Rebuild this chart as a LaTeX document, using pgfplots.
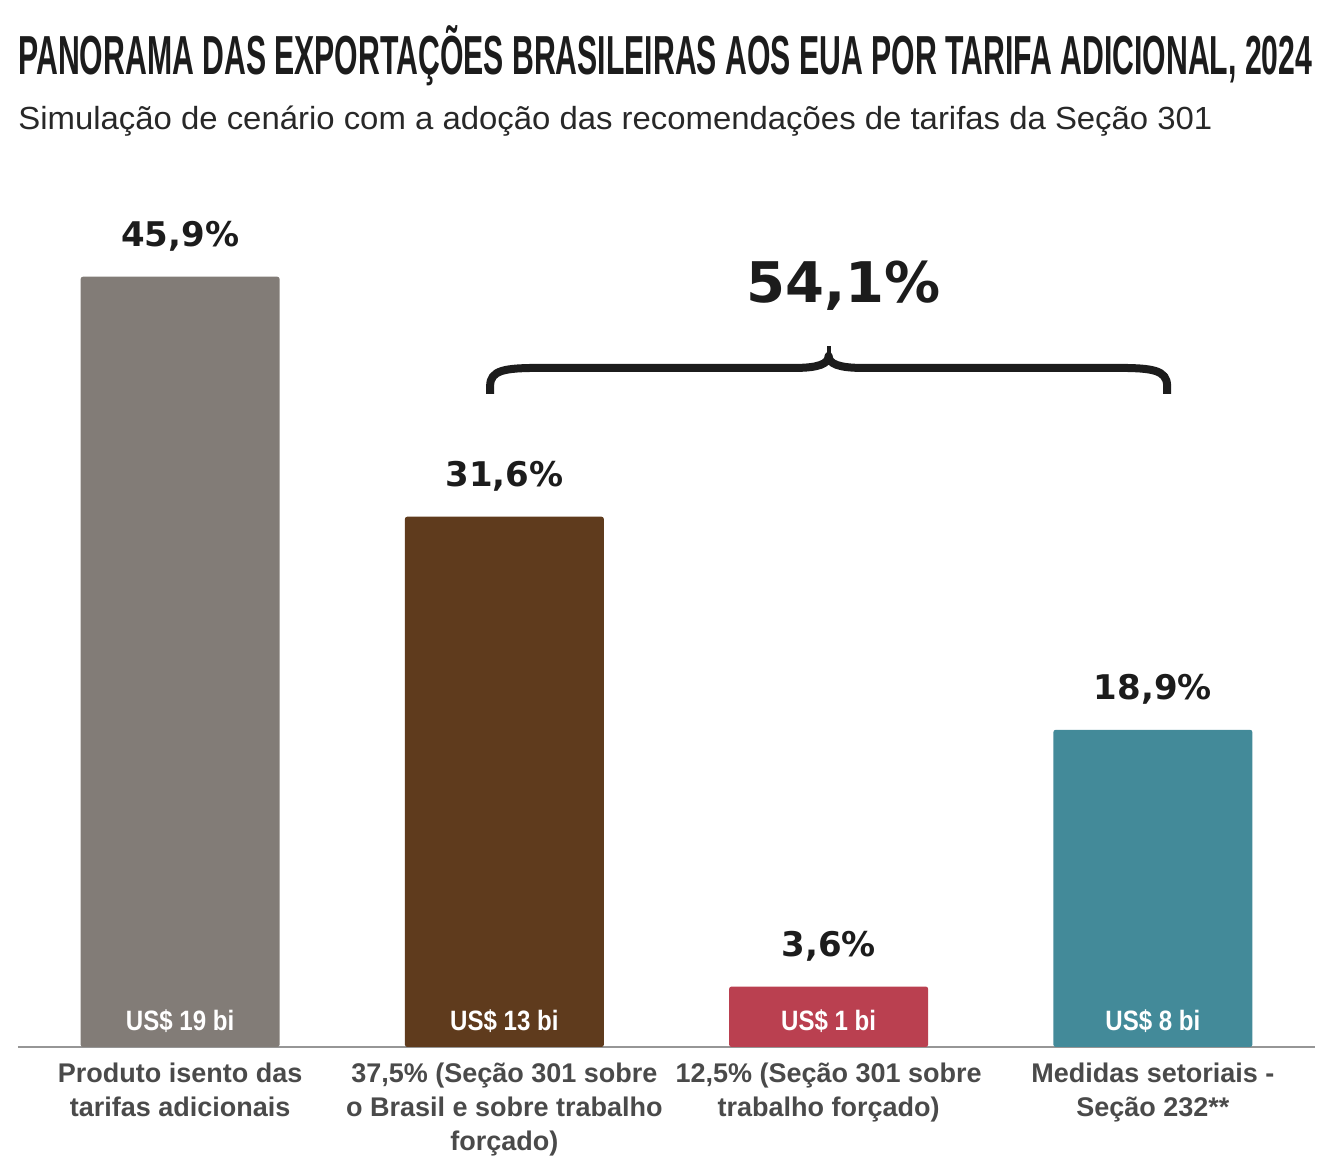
\documentclass[border=0pt]{standalone}
\usepackage{pgfplots}
\pgfplotsset{compat=1.18}
\usepackage{graphicx}
\usepackage{fontspec}
\setmainfont{Liberation Sans}
\newfontfamily\numfont{DejaVu Sans}

\definecolor{barGray}{RGB}{130,124,119}
\definecolor{barBrown}{RGB}{95,59,29}
\definecolor{barRed}{RGB}{186,64,80}
\definecolor{barTeal}{RGB}{67,138,153}
\definecolor{axisGray}{RGB}{150,150,150}
\definecolor{labelInk}{RGB}{74,74,74}
\definecolor{valueInk}{RGB}{28,28,28}
\definecolor{titleInk}{RGB}{28,28,28}
\definecolor{subInk}{RGB}{40,40,40}

\tikzset{usd/.style={anchor=base, inner sep=0pt, text=white,
        font=\bfseries\fontsize{14pt}{16pt}\selectfont, yshift=8pt}}
\newcommand\usd[1]{\scalebox{0.86}[1]{US\$ #1 bi}}

\begin{document}
\begin{tikzpicture}
\useasboundingbox (0,0) rectangle (665pt,585pt);

% title and subtitle
\node[anchor=base west, inner sep=0pt, text=titleInk] at (9pt,547.5pt)
  {\resizebox{647pt}{\height}{\bfseries\fontsize{27.5pt}{31pt}\selectfont PANORAMA DAS EXPORTAÇÕES BRASILEIRAS AOS EUA POR TARIFA ADICIONAL, 2024}};
\node[anchor=base west, inner sep=0pt, text=subInk] at (9pt,520pt)
  {\resizebox{597pt}{\height}{\fontsize{16pt}{19pt}\selectfont Simulação de cenário com a adoção das recomendações de tarifas da Seção 301}};

\begin{axis}[
  at={(9pt,61.5pt)}, anchor=south west,
  scale only axis, width=648.5pt, height=461.5pt,
  xmin=-0.5, xmax=3.5, ymin=0, ymax=55,
  axis x line*=bottom, axis y line=none,
  x axis line style={draw=axisGray, line width=1pt},
  xtick={0,1,2,3},
  xticklabels={{Produto isento das\\tarifas adicionais},
               {37,5\% (Seção 301 sobre\\o Brasil e sobre trabalho\\forçado)},
               {12,5\% (Seção 301 sobre\\trabalho forçado)},
               {Medidas setoriais -\\Seção 232**}},
  xticklabel style={font=\bfseries\fontsize{13.5pt}{17pt}\selectfont, text=labelInk,
                    align=center, anchor=north, inner sep=0pt, yshift=-8pt},
  major tick length=0pt,
  ytick=\empty,
  ybar, bar width=99.5pt, bar shift=0pt,
  clip=false,
  /pgf/number format/assume math mode=true,
  nodes near coords={\pgfmathprintnumber[fixed,fixed zerofill,precision=1,use comma]{\pgfplotspointmeta}\%},
  every node near coord/.append style={font=\numfont\bfseries\fontsize{17pt}{20pt}\selectfont,
                    text=valueInk, anchor=base, yshift=15pt, inner sep=0pt},
]
\addplot[fill=barGray,  draw=none, rounded corners=1.2pt] coordinates {(0,45.9)};
\addplot[fill=barBrown, draw=none, rounded corners=1.2pt] coordinates {(1,31.6)};
\addplot[fill=barRed,   draw=none, rounded corners=1.2pt] coordinates {(2,3.6)};
\addplot[fill=barTeal,  draw=none, rounded corners=1.2pt] coordinates {(3,18.9)};

% export values inside the bars
\node[usd] at (axis cs:0,0) {\usd{19}};
\node[usd] at (axis cs:1,0) {\usd{13}};
\node[usd] at (axis cs:2,0) {\usd{1}};
\node[usd] at (axis cs:3,0) {\usd{8}};

% brace grouping the three tariffed categories
\draw[valueInk, line width=4pt, line cap=butt, line join=round]
  (axis cs:0.9561,38.915) -- (axis cs:0.9561,39.392)
  .. controls (axis cs:0.9561,40.346) and (axis cs:1.0023,40.465) .. (axis cs:1.1103,40.465)
  -- (axis cs:1.8967,40.465)
  .. controls (axis cs:1.9676,40.465) and (axis cs:2.0,40.703) .. (axis cs:2.0,41.180)
  .. controls (axis cs:2.0,40.703) and (axis cs:2.0324,40.465) .. (axis cs:2.1033,40.465)
  -- (axis cs:2.8897,40.465)
  .. controls (axis cs:2.9977,40.465) and (axis cs:3.0439,40.346) .. (axis cs:3.0439,39.392)
  -- (axis cs:3.0439,38.915);
\fill[valueInk] (axis cs:1.994,40.9) rectangle (axis cs:2.006,41.776);

\node[anchor=base, inner sep=0pt, text=valueInk,
      font=\numfont\bfseries\fontsize{28pt}{32pt}\selectfont]
  at (axis cs:2.045,44.34) {54,1\%};
\end{axis}
\end{tikzpicture}
\end{document}
